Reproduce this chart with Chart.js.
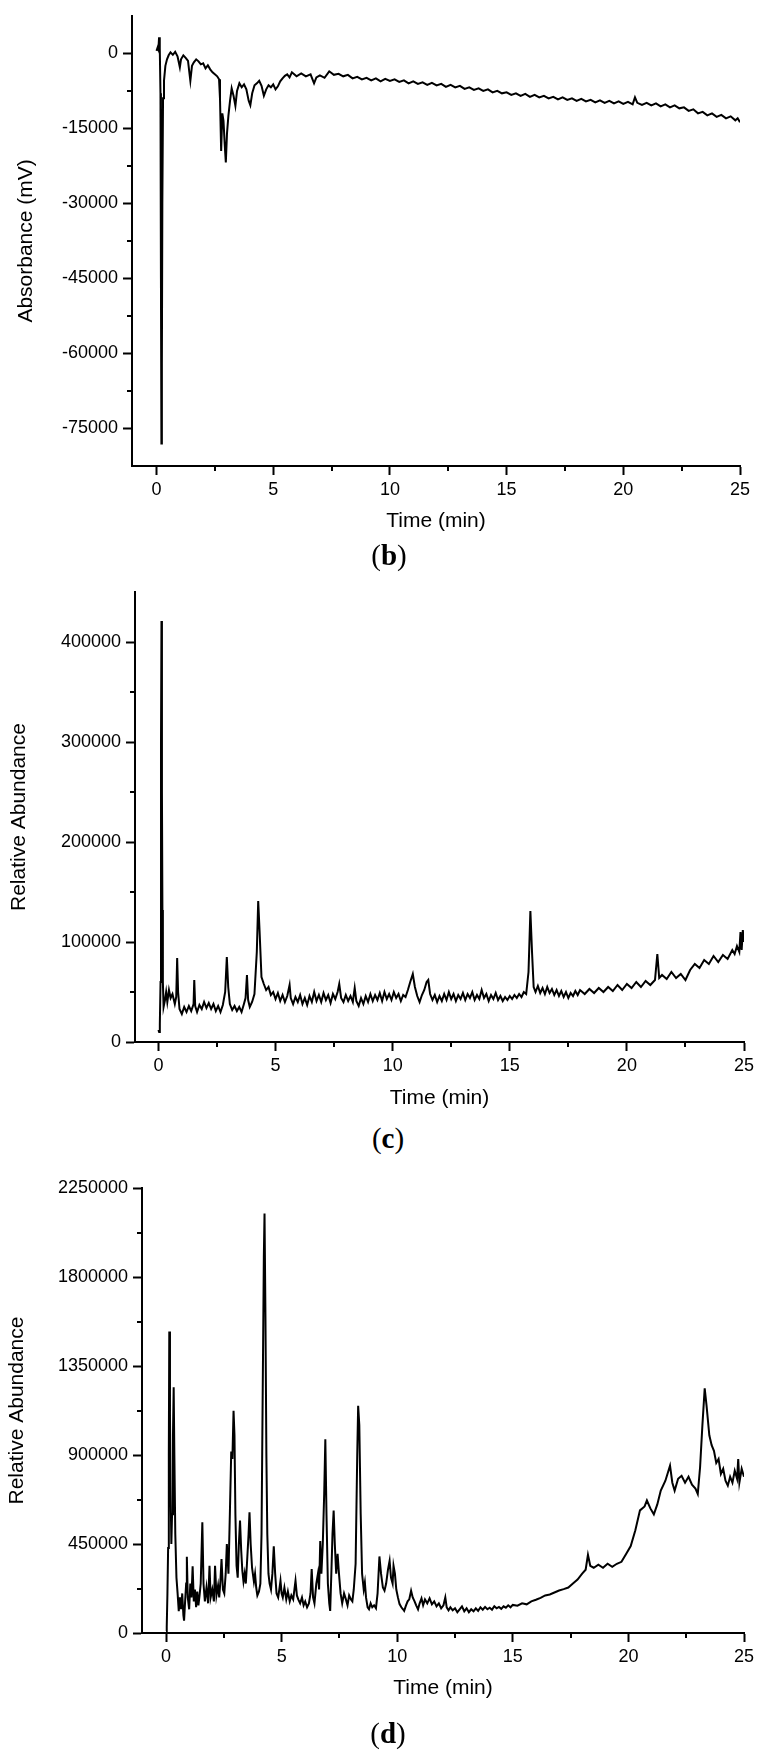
<!DOCTYPE html>
<html>

<head>
    <title>Chromatograms</title>
    <script src="https://cdn.jsdelivr.net/npm/chart.js"></script>
    <style>
        body { margin: 0; background: #fff; }
        #page { position: relative; width: 770px; height: 1757px; }
        canvas { position: absolute; left: 0; }
        .tag {
            position: absolute; width: 100px; text-align: center; line-height: 32px;
            font-family: "Liberation Serif", "DejaVu Serif", serif; font-size: 29px;
        }
    </style>
</head>

<body>
    <div id="page">
        <canvas id="chartB" style="top:0px" width="770" height="540"></canvas>
        <div class="tag" style="left:339px; top:539px">(<b>b</b>)</div>
        <canvas id="chartC" style="top:560px" width="770" height="560"></canvas>
        <div class="tag" style="left:338px; top:1122px">(<b>c</b>)</div>
        <canvas id="chartD" style="top:1140px" width="770" height="580"></canvas>
        <div class="tag" style="left:338px; top:1717px">(<b>d</b>)</div>
    </div>

    <script>
        // shared time axis
        var timeTicks = [0, 5, 10, 15, 20, 25];
        var timeMinor = [2.5, 7.5, 12.5, 17.5, 22.5];

        // (b) UV trace
        var timeB = [0, 0.05, 0.08, 0.11, 0.14, 0.17, 0.19, 0.21, 0.23, 0.25, 0.28, 0.32, 0.38, 0.45, 0.52, 0.6, 0.7, 0.8, 0.9, 1.0,
            1.05, 1.15, 1.25, 1.35, 1.45, 1.52, 1.6, 1.7, 1.8, 1.9, 2.0, 2.1, 2.2, 2.3, 2.4, 2.5, 2.6, 2.68, 2.72, 2.77,
            2.82, 2.87, 2.92, 2.97, 3.02, 3.08, 3.15, 3.22, 3.3, 3.38, 3.45, 3.55, 3.65, 3.75, 3.85, 3.95, 4.02, 4.1, 4.2, 4.3,
            4.4, 4.5, 4.6, 4.7, 4.8, 4.9, 5.0, 5.1, 5.2, 5.3, 5.4, 5.5, 5.6, 5.7, 5.8, 5.9, 6.0, 6.2, 6.4, 6.6,
            6.75, 6.85, 7.0, 7.2, 7.4, 7.6, 7.8, 8.0, 8.2, 8.4, 8.6, 8.8, 9.0, 9.2, 9.4, 9.6, 9.8, 10.0, 10.2, 10.4,
            10.6, 10.8, 11.0, 11.2, 11.4, 11.6, 11.8, 12.0, 12.2, 12.4, 12.6, 12.8, 13.0, 13.2, 13.4, 13.6, 13.8, 14.0, 14.2, 14.4,
            14.6, 14.8, 15.0, 15.2, 15.4, 15.6, 15.8, 16.0, 16.2, 16.4, 16.6, 16.8, 17.0, 17.2, 17.4, 17.6, 17.8, 18.0, 18.2, 18.4,
            18.6, 18.8, 19.0, 19.2, 19.4, 19.6, 19.8, 20.0, 20.2, 20.4, 20.5, 20.6, 20.8, 21.0, 21.2, 21.4, 21.6, 21.8, 22.0, 22.2,
            22.4, 22.6, 22.8, 23.0, 23.2, 23.4, 23.6, 23.8, 24.0, 24.2, 24.4, 24.6, 24.8, 24.9, 25.0];
        var absB = [500, 1200, 800, 3200, 1000, -8000, -45000, -78000, -62000, -30000, -9000, -5500, -2500, -1200, -400, 200, -300, 300, -600, -2800,
            -1200, -400, -900, -1500, -5500, -2500, -1800, -1200, -1600, -2200, -2000, -3000, -2400, -3200, -3800, -4200, -4600, -5200, -9000, -19500,
            -12000, -13500, -18000, -21800, -16000, -12500, -9500, -7000, -8500, -10500, -7500, -6000, -6800, -6200, -7200, -9500, -10400, -8000, -6400, -6000,
            -5500, -6500, -8500, -7200, -6400, -6800, -6200, -7200, -6600, -5600, -5000, -4500, -4200, -4800, -3800, -4200, -4600, -4000, -4600, -4200,
            -6000, -4800, -4400, -4900, -3600, -4300, -4100, -4600, -4300, -5000, -4700, -5200, -4900, -5400, -5000, -5600, -5100, -5500, -5200, -5700,
            -5400, -6000, -5600, -6100, -5800, -6300, -5900, -6400, -6100, -6700, -6300, -6800, -6500, -7100, -6800, -7300, -7000, -7500, -7200, -7800,
            -7500, -8000, -7800, -8300, -8000, -8500, -8100, -8700, -8300, -8800, -8500, -9000, -8700, -9200, -8800, -9300, -9000, -9500, -9100, -9600,
            -9300, -9800, -9400, -9900, -9500, -10000, -9600, -10100, -9700, -10200, -8800, -9900, -10300, -9900, -10400, -10000, -10600, -10200, -10800, -10400,
            -11000, -10800, -11500, -11200, -12000, -11700, -12400, -12000, -12700, -12300, -13000, -12600, -13400, -13000, -13800];
        var yTicksB = [-75000, -60000, -45000, -30000, -15000, 0];
        var yMinorB = [-67500, -52500, -37500, -22500, -7500];

        // (c) MS trace
        var timeC = [0, 0.03, 0.06, 0.09, 0.11, 0.13, 0.15, 0.17, 0.19, 0.22, 0.28, 0.33, 0.38, 0.45, 0.52, 0.6, 0.7, 0.76, 0.8, 0.84,
            0.9, 1.0, 1.1, 1.2, 1.3, 1.4, 1.5, 1.53, 1.57, 1.65, 1.75, 1.85, 1.95, 2.05, 2.15, 2.25, 2.35, 2.45, 2.55, 2.65,
            2.75, 2.85, 2.92, 2.98, 3.05, 3.15, 3.25, 3.35, 3.45, 3.55, 3.65, 3.72, 3.78, 3.83, 3.9, 4.0, 4.1, 4.2, 4.26, 4.32,
            4.4, 4.5, 4.6, 4.7, 4.8, 4.9, 5.0, 5.1, 5.2, 5.3, 5.4, 5.5, 5.6, 5.65, 5.75, 5.85, 5.95, 6.05, 6.15, 6.25,
            6.35, 6.45, 6.55, 6.65, 6.75, 6.85, 6.95, 7.05, 7.15, 7.25, 7.35, 7.45, 7.55, 7.65, 7.72, 7.8, 7.9, 8.0, 8.1, 8.2,
            8.3, 8.38, 8.45, 8.55, 8.65, 8.75, 8.85, 8.95, 9.05, 9.15, 9.25, 9.35, 9.45, 9.55, 9.65, 9.75, 9.85, 9.95, 10.05, 10.15,
            10.25, 10.35, 10.45, 10.55, 10.65, 10.75, 10.86, 10.95, 11.05, 11.15, 11.25, 11.35, 11.45, 11.52, 11.6, 11.7, 11.8, 11.9, 12.0, 12.1,
            12.2, 12.3, 12.4, 12.5, 12.6, 12.7, 12.8, 12.9, 13.0, 13.1, 13.2, 13.3, 13.4, 13.5, 13.6, 13.7, 13.8, 13.9, 14.0, 14.1,
            14.2, 14.3, 14.4, 14.5, 14.6, 14.7, 14.8, 14.9, 15.0, 15.1, 15.2, 15.3, 15.4, 15.5, 15.6, 15.7, 15.8, 15.88, 15.95, 16.02,
            16.1, 16.2, 16.3, 16.4, 16.5, 16.6, 16.7, 16.8, 16.9, 17.0, 17.1, 17.2, 17.3, 17.4, 17.5, 17.6, 17.7, 17.8, 17.9, 18.0,
            18.2, 18.4, 18.6, 18.8, 19.0, 19.2, 19.4, 19.6, 19.8, 20.0, 20.2, 20.4, 20.6, 20.8, 21.0, 21.2, 21.3, 21.38, 21.5, 21.7,
            21.9, 22.1, 22.3, 22.5, 22.7, 22.9, 23.1, 23.3, 23.5, 23.7, 23.9, 24.1, 24.3, 24.5, 24.6, 24.7, 24.8, 24.85, 24.9, 24.95, 25.0];
        var abundC = [12000, 10000, 18000, 60000, 300000, 421000, 250000, 132000, 60000, 35000, 42000, 50000, 40000, 52000, 44000, 48000, 38000, 45000, 84000, 50000,
            33000, 28000, 35000, 30000, 36000, 31000, 38000, 62000, 36000, 30000, 37000, 33000, 40000, 34000, 39000, 33000, 38000, 31000, 36000, 30000,
            37000, 50000, 85000, 55000, 38000, 32000, 36000, 31000, 35000, 30000, 38000, 44000, 67000, 42000, 35000, 40000, 48000, 90000, 141000, 110000,
            65000, 58000, 52000, 55000, 47000, 50000, 43000, 49000, 41000, 47000, 40000, 46000, 57000, 44000, 38000, 45000, 40000, 47000, 38000, 44000,
            37000, 46000, 40000, 50000, 41000, 47000, 40000, 49000, 42000, 47000, 39000, 48000, 43000, 50000, 58000, 44000, 40000, 47000, 41000, 46000,
            40000, 54000, 41000, 36000, 44000, 38000, 46000, 40000, 48000, 41000, 47000, 42000, 49000, 41000, 50000, 43000, 48000, 42000, 50000, 44000,
            48000, 41000, 47000, 45000, 52000, 60000, 68000, 55000, 46000, 40000, 47000, 52000, 60000, 62000, 48000, 42000, 47000, 40000, 46000, 41000,
            48000, 42000, 50000, 43000, 48000, 41000, 47000, 43000, 49000, 42000, 48000, 44000, 50000, 42000, 47000, 43000, 52000, 44000, 48000, 41000,
            47000, 43000, 49000, 42000, 46000, 41000, 45000, 42000, 46000, 43000, 47000, 44000, 48000, 45000, 50000, 48000, 70000, 131000, 90000, 55000,
            50000, 56000, 49000, 54000, 48000, 55000, 49000, 53000, 47000, 52000, 46000, 51000, 45000, 50000, 44000, 49000, 46000, 51000, 47000, 52000,
            48000, 53000, 49000, 54000, 50000, 55000, 51000, 57000, 52000, 58000, 54000, 60000, 55000, 61000, 57000, 62000, 88000, 64000, 67000, 63000,
            70000, 64000, 68000, 62000, 72000, 78000, 74000, 82000, 78000, 86000, 80000, 87000, 83000, 92000, 88000, 96000, 90000, 110000, 92000, 112000, 100000];
        var yTicksC = [0, 100000, 200000, 300000, 400000];
        var yMinorC = [50000, 150000, 250000, 350000];

        // (d) MS trace
        var timeD = [0, 0.03, 0.06, 0.09, 0.12, 0.14, 0.17, 0.2, 0.23, 0.26, 0.3, 0.33, 0.36, 0.4, 0.45, 0.5, 0.55, 0.6, 0.65, 0.7,
            0.75, 0.78, 0.82, 0.87, 0.9, 0.94, 1.0, 1.05, 1.1, 1.15, 1.2, 1.25, 1.3, 1.35, 1.4, 1.45, 1.5, 1.57, 1.62, 1.68,
            1.75, 1.82, 1.88, 1.93, 2.0, 2.07, 2.12, 2.18, 2.25, 2.3, 2.35, 2.4, 2.46, 2.52, 2.58, 2.63, 2.7, 2.76, 2.82, 2.87,
            2.92, 2.96, 3.0, 3.05, 3.1, 3.15, 3.2, 3.25, 3.3, 3.35, 3.4, 3.45, 3.5, 3.57, 3.61, 3.66, 3.72, 3.8, 3.85, 3.9,
            3.95, 4.02, 4.08, 4.13, 4.18, 4.23, 4.26, 4.3, 4.34, 4.38, 4.43, 4.48, 4.54, 4.6, 4.66, 4.72, 4.78, 4.85, 4.9, 4.95,
            5.0, 5.05, 5.12, 5.2, 5.27, 5.35, 5.42, 5.5, 5.6, 5.66, 5.72, 5.8, 5.88, 5.95, 6.02, 6.1, 6.18, 6.25, 6.3, 6.36,
            6.42, 6.5, 6.57, 6.62, 6.67, 6.72, 6.78, 6.84, 6.89, 6.94, 7.0, 7.06, 7.1, 7.15, 7.2, 7.25, 7.3, 7.36, 7.42, 7.48,
            7.55, 7.62, 7.7, 7.78, 7.85, 7.92, 8.0, 8.06, 8.12, 8.2, 8.27, 8.31, 8.36, 8.42, 8.48, 8.55, 8.6, 8.65, 8.72, 8.78,
            8.85, 8.92, 9.0, 9.08, 9.15, 9.23, 9.3, 9.38, 9.45, 9.52, 9.6, 9.67, 9.73, 9.8, 9.84, 9.9, 9.96, 10.03, 10.1, 10.18,
            10.25, 10.3, 10.38, 10.45, 10.52, 10.6, 10.67, 10.75, 10.82, 10.9, 10.97, 11.05, 11.12, 11.2, 11.3, 11.4, 11.5, 11.6, 11.7, 11.8,
            11.9, 12.0, 12.08, 12.14, 12.22, 12.3, 12.4, 12.5, 12.6, 12.7, 12.8, 12.9, 13.0, 13.1, 13.2, 13.3, 13.4, 13.5, 13.6, 13.7,
            13.8, 13.9, 14.0, 14.1, 14.2, 14.3, 14.4, 14.5, 14.6, 14.7, 14.8, 14.9, 15.0, 15.2, 15.4, 15.6, 15.8, 16.0, 16.2, 16.4,
            16.6, 16.8, 17.0, 17.2, 17.4, 17.6, 17.8, 18.0, 18.15, 18.25, 18.35, 18.5, 18.7, 18.9, 19.1, 19.3, 19.5, 19.7, 19.9, 20.1,
            20.3, 20.5, 20.7, 20.8, 20.95, 21.1, 21.25, 21.4, 21.6, 21.8, 21.9, 22.0, 22.15, 22.3, 22.45, 22.6, 22.75, 22.9, 23.0, 23.1,
            23.2, 23.3, 23.38, 23.5, 23.6, 23.7, 23.8, 23.9, 24.0, 24.1, 24.2, 24.3, 24.4, 24.5, 24.6, 24.7, 24.75, 24.8, 24.9, 25.0];
        var abundD = [10000, 30000, 200000, 430000, 900000, 1525000, 1100000, 700000, 450000, 600000, 1000000, 1242000, 900000, 500000, 280000, 200000, 110000, 180000, 120000, 200000,
            90000, 62000, 150000, 250000, 386000, 180000, 120000, 250000, 180000, 337000, 160000, 220000, 130000, 210000, 140000, 190000, 250000, 560000, 250000, 160000,
            230000, 150000, 340000, 180000, 220000, 160000, 340000, 190000, 240000, 180000, 260000, 374000, 220000, 200000, 300000, 450000, 300000, 600000, 918000, 880000,
            1124000, 1000000, 600000, 340000, 280000, 450000, 568000, 420000, 315000, 260000, 300000, 250000, 350000, 500000, 610000, 450000, 330000, 260000, 300000, 230000,
            190000, 210000, 250000, 500000, 1200000, 1900000, 2121000, 1600000, 900000, 500000, 300000, 250000, 220000, 300000, 438000, 300000, 200000, 180000, 220000, 264000,
            200000, 180000, 230000, 170000, 210000, 160000, 190000, 170000, 264000, 190000, 170000, 150000, 180000, 140000, 160000, 130000, 150000, 200000, 323000, 180000,
            150000, 250000, 300000, 220000, 465000, 300000, 450000, 700000, 980000, 600000, 250000, 150000, 112000, 300000, 500000, 619000, 450000, 300000, 400000, 300000,
            200000, 150000, 200000, 170000, 140000, 190000, 170000, 160000, 220000, 350000, 900000, 1149000, 1050000, 600000, 300000, 220000, 256000, 180000, 130000, 120000,
            150000, 130000, 140000, 125000, 200000, 387000, 300000, 230000, 214000, 250000, 320000, 365000, 280000, 250000, 340000, 300000, 220000, 180000, 146000, 130000,
            120000, 112000, 140000, 160000, 170000, 214000, 180000, 160000, 140000, 120000, 150000, 175000, 140000, 170000, 150000, 175000, 145000, 160000, 135000, 150000,
            125000, 140000, 180000, 130000, 115000, 130000, 115000, 125000, 105000, 120000, 135000, 110000, 125000, 105000, 120000, 110000, 125000, 112000, 130000, 118000,
            132000, 120000, 128000, 118000, 135000, 125000, 132000, 122000, 135000, 128000, 140000, 130000, 142000, 138000, 150000, 145000, 160000, 168000, 178000, 190000,
            195000, 205000, 215000, 222000, 230000, 250000, 270000, 300000, 320000, 395000, 340000, 330000, 345000, 330000, 350000, 335000, 350000, 360000, 400000, 440000,
            520000, 620000, 640000, 670000, 630000, 600000, 650000, 720000, 770000, 846000, 760000, 720000, 780000, 795000, 760000, 790000, 750000, 730000, 703000, 838000,
            1050000, 1237000, 1150000, 1000000, 950000, 921000, 860000, 880000, 804000, 830000, 770000, 745000, 790000, 760000, 820000, 780000, 880000, 760000, 830000, 790000];
        var yTicksD = [0, 450000, 900000, 1350000, 1800000, 2250000];
        var yMinorD = [225000, 675000, 1125000, 1575000, 2025000];

        // short minor tick marks, placed through the chart's own scales
        var minorTicks = {
            id: 'minorTicks',
            afterDraw: function (chart, args, opts) {
                var ctx = chart.ctx;
                var area = chart.chartArea;
                ctx.save();
                ctx.strokeStyle = '#000';
                ctx.lineWidth = 2;
                ctx.beginPath();
                (opts.x || []).forEach(function (v) {
                    var px = Math.round(chart.scales.x.getPixelForValue(v));
                    ctx.moveTo(px, area.bottom);
                    ctx.lineTo(px, area.bottom + 5);
                });
                (opts.y || []).forEach(function (v) {
                    var py = Math.round(chart.scales.y.getPixelForValue(v));
                    ctx.moveTo(area.left, py);
                    ctx.lineTo(area.left - 5, py);
                });
                ctx.stroke();
                ctx.restore();
            }
        };

        function makeChart(id, times, values, cfg) {
            var points = times.map(function (t, i) { return { x: t, y: values[i] }; });
            var axisGrid = { drawOnChartArea: false, color: '#000', tickLength: 9, tickWidth: 2 };
            var axisBorder = { color: '#000', width: 2 };
            return new Chart(document.getElementById(id), {
                type: 'line',
                data: {
                    datasets: [{
                        data: points,
                        borderColor: '#000',
                        borderWidth: 2,
                        pointRadius: 0,
                        tension: 0
                    }]
                },
                plugins: [minorTicks],
                options: {
                    responsive: false,
                    animation: false,
                    events: [],
                    layout: { padding: cfg.padding },
                    plugins: {
                        legend: { display: false },
                        tooltip: { enabled: false },
                        minorTicks: { x: timeMinor, y: cfg.yMinor }
                    },
                    scales: {
                        x: {
                            type: 'linear',
                            min: cfg.xMin,
                            max: 25,
                            grid: axisGrid,
                            border: axisBorder,
                            afterBuildTicks: function (scale) {
                                scale.ticks = timeTicks.map(function (v) { return { value: v }; });
                            },
                            afterFit: function (scale) { scale.height = cfg.xHeight; },
                            ticks: {
                                color: '#000', padding: 4, autoSkip: false, maxRotation: 0,
                                font: { family: 'Liberation Sans', size: 18 },
                                callback: function (v) { return String(v); }
                            },
                            title: {
                                display: true, text: 'Time (min)', color: '#000',
                                font: { family: 'Liberation Sans', size: 21 },
                                padding: { top: 0, bottom: cfg.xTitlePad }
                            }
                        },
                        y: {
                            type: 'linear',
                            min: cfg.yMin,
                            max: cfg.yMax,
                            grid: axisGrid,
                            border: axisBorder,
                            afterBuildTicks: function (scale) {
                                scale.ticks = cfg.yTicks.map(function (v) { return { value: v }; });
                            },
                            afterFit: function (scale) { scale.width = cfg.yWidth; },
                            ticks: {
                                color: '#000', padding: 5, autoSkip: false,
                                font: { family: 'Liberation Sans', size: 18 },
                                callback: function (v) { return String(v); }
                            },
                            title: {
                                display: true, text: cfg.yTitle, color: '#000',
                                font: { family: 'Liberation Sans', size: 21 },
                                padding: { top: cfg.yTitlePad, bottom: 0 }
                            }
                        }
                    }
                }
            });
        }

        makeChart('chartB', timeB, absB, {
            padding: { left: 0, top: 15, right: 30, bottom: 0 },
            xMin: -1.05, yMin: -82500, yMax: 7500,
            yTicks: yTicksB, yMinor: yMinorB,
            yWidth: 132, xHeight: 74, xTitlePad: 6,
            yTitle: 'Absorbance (mV)', yTitlePad: 14
        });

        makeChart('chartC', timeC, abundC, {
            padding: { left: 0, top: 32, right: 26, bottom: 0 },
            xMin: -1.0, yMin: 0, yMax: 450000,
            yTicks: yTicksC, yMinor: yMinorC,
            yWidth: 135, xHeight: 78, xTitlePad: 9,
            yTitle: 'Relative Abundance', yTitlePad: 7
        });

        makeChart('chartD', timeD, abundD, {
            padding: { left: 0, top: 48, right: 26, bottom: 0 },
            xMin: -1.04, yMin: 0, yMax: 2250000,
            yTicks: yTicksD, yMinor: yMinorD,
            yWidth: 142, xHeight: 87, xTitlePad: 19,
            yTitle: 'Relative Abundance', yTitlePad: 5
        });
    </script>
</body>

</html>
